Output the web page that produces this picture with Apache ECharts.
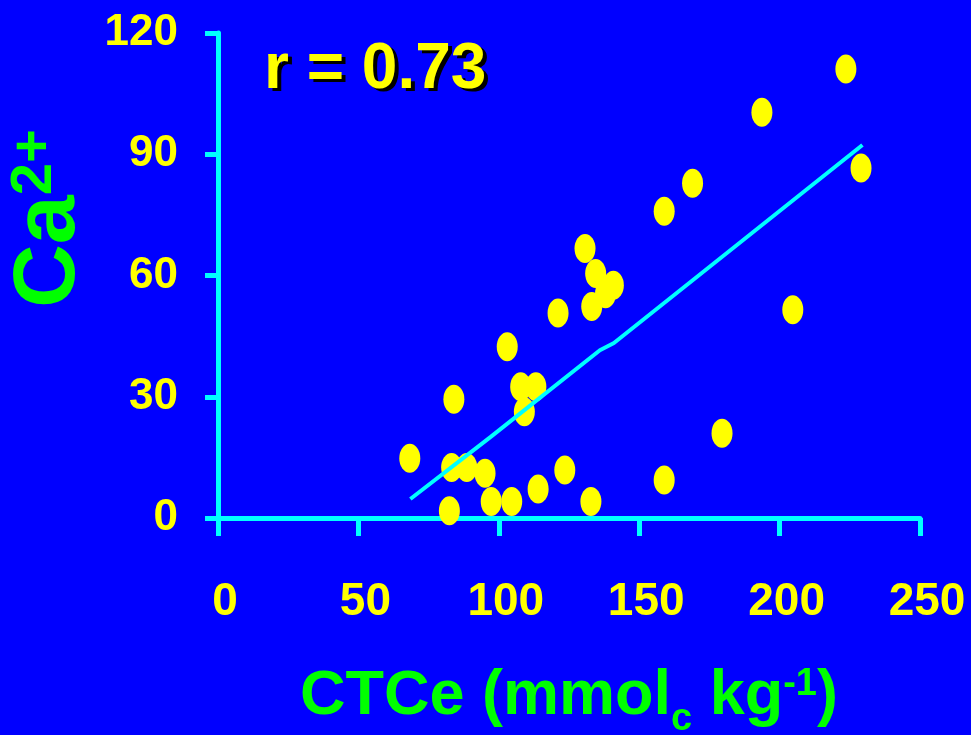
<!DOCTYPE html>
<html>
<head>
<meta charset="utf-8">
<script src="https://cdn.jsdelivr.net/npm/echarts@6/dist/echarts.min.js"></script>
<style>
  html, body { margin: 0; padding: 0; background: #0000ff; }
  #main { width: 971px; height: 735px; }
</style>
</head>
<body>
<div id="main"></div>
<script>
// CTCe (x) and Ca2+ (y) of each sample
const ctce = [68.3, 82.4, 83.2, 84.0, 88.6, 95.1, 97.3, 103.0, 104.6, 107.8,
  109.1, 113.2, 114.0, 121.1, 123.5, 130.7, 132.8, 133.1, 134.5, 138.0,
  140.8, 158.9, 158.9, 169.0, 179.5, 193.7, 204.7, 223.6, 229.0];
const ca = [14.8, 1.8, 12.5, 29.4, 12.5, 11.1, 4.1, 42.4, 4.1, 32.5,
  26.3, 32.5, 7.2, 50.7, 11.9, 66.7, 4.1, 52.3, 60.5, 55.5,
  57.6, 9.4, 75.9, 82.8, 21.0, 100.4, 51.5, 111.1, 86.6];

// fitted line
const fitCtce = [68.5, 97, 136, 141, 229.5];
const fitCa = [4.7, 20, 41.5, 43.3, 92.3];

const xTicks = [0, 50, 100, 150, 200, 250];
const yTicks = [0, 30, 60, 90, 120];

const FONT = 'Liberation Sans, Arial, sans-serif';
const CYAN = '#00ffff';
const YELLOW = '#ffff00';
const GREEN = '#00ff00';

const chart = echarts.init(document.getElementById('main'), null, { renderer: 'canvas' });

const option = {
  backgroundColor: '#0000ff',
  animation: false,
  title: {
    text: 'r = 0.73',
    left: 264,
    top: 38,
    padding: 0,
    textStyle: {
      color: YELLOW,
      fontFamily: FONT,
      fontWeight: 'bold',
      fontSize: 64,
      textShadowColor: '#000000',
      textShadowOffsetX: 4,
      textShadowOffsetY: 3,
      textShadowBlur: 0.5
    }
  },
  grid: {
    left: 218,
    right: 51,
    top: 33,
    bottom: 217,
    containLabel: false,
    outerBoundsMode: 'none'
  },
  xAxis: {
    type: 'value',
    min: xTicks[0],
    max: xTicks[xTicks.length - 1],
    interval: xTicks[1] - xTicks[0],
    splitLine: { show: false },
    axisLine: { onZero: false, lineStyle: { color: CYAN, width: 5 } },
    axisTick: { length: 18, lineStyle: { color: CYAN, width: 5 } },
    axisLabel: {
      color: YELLOW,
      fontFamily: FONT,
      fontWeight: 'bold',
      fontSize: 46,
      margin: 61,
      padding: [0, 0, 0, 14]
    },
    name: '{n|CTCe (mmol}{sub|c}{n| kg}{sup|-1}{n|)}',
    nameLocation: 'middle',
    nameGap: 147,
    nameTextStyle: {
      rich: {
        n: { color: GREEN, fontFamily: FONT, fontWeight: 'bold', fontSize: 63, verticalAlign: 'top' },
        sub: { color: GREEN, fontFamily: FONT, fontWeight: 'bold', fontSize: 38, verticalAlign: 'top', padding: [36, 0, 0, 0] },
        sup: { color: GREEN, fontFamily: FONT, fontWeight: 'bold', fontSize: 38, verticalAlign: 'top', padding: [1, 0, 0, 0] }
      }
    }
  },
  yAxis: {
    type: 'value',
    min: yTicks[0],
    max: yTicks[yTicks.length - 1],
    interval: yTicks[1] - yTicks[0],
    splitLine: { show: false },
    axisLine: { onZero: false, lineStyle: { color: CYAN, width: 5 } },
    axisTick: { length: 13, lineStyle: { color: CYAN, width: 5 } },
    axisLabel: {
      color: YELLOW,
      fontFamily: FONT,
      fontWeight: 'bold',
      fontSize: 44,
      margin: 40
    },
    name: '{a|Ca}{s|2+}',
    nameLocation: 'middle',
    nameRotate: 90,
    nameGap: 118,
    nameTextStyle: {
      padding: [0, 0, 0, 114],
      rich: {
        a: { color: GREEN, fontFamily: FONT, fontWeight: 'bold', fontSize: 88, verticalAlign: 'top' },
        s: { color: GREEN, fontFamily: FONT, fontWeight: 'bold', fontSize: 58, verticalAlign: 'top' }
      }
    }
  },
  series: [
    {
      type: 'scatter',
      data: ctce.map((x, i) => [x, ca[i]]),
      symbol: 'path://M50,0A50,50,0,1,1,50,100A50,50,0,1,1,50,0Z',
      symbolSize: [21, 29],
      itemStyle: { color: YELLOW, opacity: 1 },
      z: 2
    },
    {
      type: 'line',
      data: fitCtce.map((x, i) => [x, fitCa[i]]),
      showSymbol: false,
      symbol: 'none',
      lineStyle: { color: CYAN, width: 4 },
      z: 3
    }
  ]
};

chart.setOption(option);
</script>
</body>
</html>
